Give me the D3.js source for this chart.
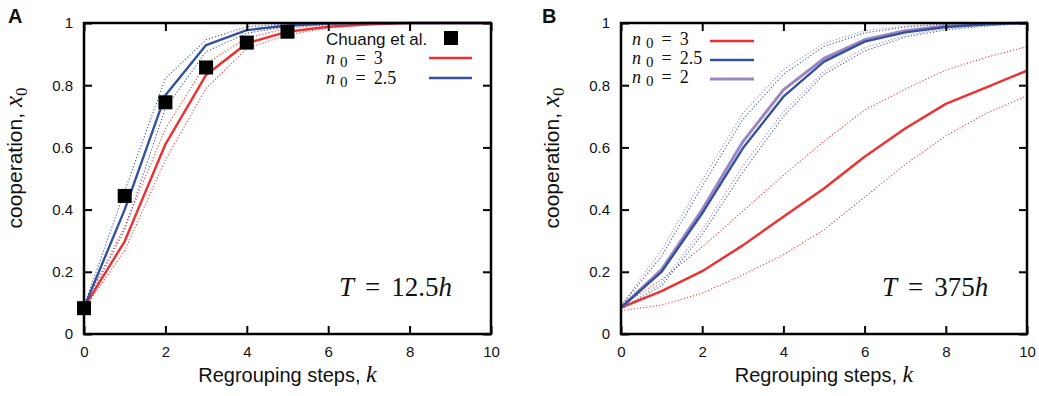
<!DOCTYPE html>
<html><head><meta charset="utf-8">
<script src="https://cdn.jsdelivr.net/npm/d3@7"></script>
<style>body{margin:0;background:#fff}svg{display:block}</style>
</head><body>
<svg id="chart" width="1039" height="396"></svg>
<script>
// ---------- data ----------
const steps = [0,1,2,3,4,5,6,7,8,9,10];
const yTicks = [0,0.2,0.4,0.6,0.8,1];
const xTicks = [0,2,4,6,8,10];
const yTickLabels = ["0","0.2","0.4","0.6","0.8","1"];
const xTickLabels = ["0","2","4","6","8","10"];

// Panel A (T = 12.5h)
const chuangK = [0,1,2,3,4,5];
const chuangX = [0.083,0.444,0.745,0.857,0.937,0.972];
const aRed      = [0.085,0.298,0.610,0.833,0.935,0.972,0.988,0.996,1,1,1];
const aRedHi    = [0.090,0.345,0.660,0.870,0.952,0.984,0.994,0.999,1,1,1];
const aRedLo    = [0.080,0.268,0.560,0.790,0.918,0.962,0.984,0.994,0.999,1,1];
const aBlue     = [0.085,0.400,0.768,0.929,0.977,0.992,0.998,1,1,1,1];
const aBlueHi   = [0.090,0.460,0.822,0.946,0.988,0.997,1,1,1,1,1];
const aBlueLo   = [0.080,0.335,0.726,0.908,0.967,0.988,0.996,1,1,1,1];

// Panel B (T = 375h)
const bRed      = [0.085,0.138,0.202,0.285,0.377,0.468,0.570,0.661,0.740,0.793,0.847];
const bRedHi    = [0.090,0.175,0.280,0.395,0.510,0.620,0.720,0.787,0.849,0.890,0.924];
const bRedLo    = [0.075,0.093,0.131,0.190,0.255,0.335,0.440,0.545,0.637,0.710,0.766];
const bBlue     = [0.085,0.200,0.388,0.597,0.763,0.876,0.940,0.970,0.987,0.996,1];
const bBlueHi   = [0.090,0.250,0.475,0.690,0.835,0.925,0.968,0.987,0.996,1,1];
const bBlueLo   = [0.080,0.155,0.320,0.520,0.700,0.835,0.910,0.955,0.978,0.990,1];
const bPurple   = [0.085,0.207,0.400,0.618,0.785,0.886,0.946,0.975,0.990,0.997,1];
const bPurpleHi = [0.090,0.270,0.495,0.710,0.850,0.935,0.975,0.990,0.998,1,1];
const bPurpleLo = [0.080,0.165,0.335,0.540,0.715,0.845,0.920,0.960,0.982,0.993,1];

// ---------- styles ----------
const RED = "#ee3030", BLUE = "#3450a0", PURPLE = "#9a86c4";
const svg = d3.select("#chart");
const sans = "'Liberation Sans', Arial, Helvetica, sans-serif";
const serif = "'Liberation Serif','Times New Roman',serif";

function panel(opt){
  const x = d3.scaleLinear().domain([0,10]).range([opt.left, opt.right]);
  const y = d3.scaleLinear().domain([0,1]).range([334, 23]);
  const g = svg.append("g");
  const clipId = "clip" + opt.name;
  svg.append("clipPath").attr("id", clipId).append("rect")
    .attr("x", opt.left).attr("y", 21).attr("width", opt.right-opt.left).attr("height", 315);
  const plot = g.append("g").attr("clip-path", `url(#${clipId})`);
  const line = d3.line().x((d,i)=>x(steps[i])).y(d=>y(d));

  opt.dotted.forEach(s=>{
    plot.append("path").attr("d", line(s.data)).attr("fill","none")
      .attr("stroke", s.color).attr("stroke-width",1.1).attr("stroke-dasharray","1.2,2")
      .attr("opacity",0.9);
  });
  opt.solid.forEach(s=>{
    plot.append("path").attr("d", line(s.data)).attr("fill","none")
      .attr("stroke", s.color).attr("stroke-width", s.w||2.4).attr("stroke-linejoin","round");
  });
  if(opt.squares){
    g.selectAll("rect.sq").data(opt.squares.k).enter().append("rect")
      .attr("x",(d)=>x(d)-7).attr("y",(d,i)=>y(opt.squares.v[i])-7)
      .attr("width",14).attr("height",14).attr("fill","#000");
  }

  // axes: ticks inward, mirrored
  const tl = 8;
  const bottom = g.append("g").attr("transform",`translate(0,${y(0)})`)
    .call(d3.axisBottom(x).tickValues(xTicks).tickSize(-tl).tickPadding(12)
      .tickFormat((d,i)=>xTickLabels[i]));
  const top = g.append("g").attr("transform",`translate(0,${y(1)})`)
    .call(d3.axisTop(x).tickValues(xTicks).tickSize(-tl).tickFormat(""));
  const left = g.append("g").attr("transform",`translate(${opt.left},0)`)
    .call(d3.axisLeft(y).tickValues(yTicks).tickSize(-tl).tickPadding(11)
      .tickFormat((d,i)=>yTickLabels[i]));
  const right = g.append("g").attr("transform",`translate(${opt.right},0)`)
    .call(d3.axisRight(y).tickValues(yTicks).tickSize(-tl).tickFormat(""));
  [bottom,top,left,right].forEach(a=>{
    a.select(".domain").remove();
    a.selectAll(".tick line").attr("stroke","#000").attr("stroke-width",2);
    a.selectAll(".tick text").attr("font-family",sans).attr("font-size",15).attr("fill","#111");
  });
  g.append("rect").attr("x",opt.left).attr("y",y(1)).attr("width",opt.right-opt.left)
    .attr("height",y(0)-y(1)).attr("fill","none").attr("stroke","#000").attr("stroke-width",2.5);

  // axis titles
  const xl = g.append("text").attr("x",(opt.left+opt.right)/2).attr("y",382)
    .attr("text-anchor","middle").attr("font-family",sans).attr("font-size",20).attr("fill","#111");
  xl.append("tspan").text("Regrouping steps, ");
  xl.append("tspan").attr("font-family",serif).attr("font-style","italic").attr("font-size",24).text("k");

  const yl = g.append("text").attr("transform",`translate(${opt.left-62},158) rotate(-90)`)
    .attr("text-anchor","middle").attr("font-family",sans).attr("font-size",21).attr("fill","#111");
  yl.append("tspan").text("cooperation, ");
  yl.append("tspan").attr("font-family",serif).attr("font-style","italic").attr("font-size",25).text("x");
  yl.append("tspan").attr("font-family",serif).attr("font-size",17).attr("dy",5).text("0");

  // panel letter
  g.append("text").attr("x",opt.letterX).attr("y",23).attr("font-family",sans)
    .attr("font-weight","bold").attr("font-size",20).attr("fill","#111").text(opt.name);

  // T annotation
  const t = g.append("text").attr("x",opt.tx).attr("y",296).attr("font-family",serif)
    .attr("font-size",27).attr("fill","#111");
  t.append("tspan").attr("font-style","italic").text("T");
  t.append("tspan").attr("dx",11).text("=");
  t.append("tspan").attr("dx",11).text(opt.tVal);
  t.append("tspan").attr("font-style","italic").text("h");

  return {x,y,g};
}

function nLabel(g, xPos, yPos, val){
  const t = g.append("text").attr("x",xPos).attr("y",yPos).attr("font-family",serif)
    .attr("font-size",18).attr("fill","#111");
  t.append("tspan").attr("font-style","italic").text("n");
  t.append("tspan").attr("dy",3).attr("dx",5).attr("font-size",15).text("0");
  t.append("tspan").attr("dy",-3).attr("dx",8).text("=");
  t.append("tspan").attr("dx",8).text(val);
}

// Panel A
const A = panel({name:"A", left:84, right:491, letterX:8, tx:339, tVal:"12.5",
  dotted:[{data:aRedHi,color:RED},{data:aRedLo,color:RED},{data:aBlueHi,color:BLUE},{data:aBlueLo,color:BLUE}],
  solid:[{data:aRed,color:RED},{data:aBlue,color:BLUE}],
  squares:{k:chuangK, v:chuangX}});
// legend A
A.g.append("text").attr("x",326).attr("y",45).attr("font-family",sans).attr("font-size",17)
  .attr("fill","#111").text("Chuang et al.");
A.g.append("rect").attr("x",444).attr("y",31).attr("width",14).attr("height",14).attr("fill","#000");
nLabel(A.g, 326, 64, "3");
A.g.append("line").attr("x1",429).attr("x2",472).attr("y1",58).attr("y2",58).attr("stroke",RED).attr("stroke-width",2.4);
nLabel(A.g, 326, 84, "2.5");
A.g.append("line").attr("x1",429).attr("x2",472).attr("y1",78).attr("y2",78).attr("stroke",BLUE).attr("stroke-width",2.4);

// Panel B
const B = panel({name:"B", left:621, right:1027, letterX:542, tx:882, tVal:"375",
  dotted:[{data:bRedHi,color:RED},{data:bRedLo,color:RED},{data:bPurpleHi,color:PURPLE},{data:bPurpleLo,color:PURPLE},{data:bBlueHi,color:BLUE},{data:bBlueLo,color:BLUE}],
  solid:[{data:bRed,color:RED},{data:bPurple,color:PURPLE,w:3},{data:bBlue,color:BLUE}]});
nLabel(B.g, 632, 45, "3");
B.g.append("line").attr("x1",710).attr("x2",754).attr("y1",41).attr("y2",41).attr("stroke",RED).attr("stroke-width",2.4);
nLabel(B.g, 632, 64, "2.5");
B.g.append("line").attr("x1",710).attr("x2",754).attr("y1",60).attr("y2",60).attr("stroke",BLUE).attr("stroke-width",2.4);
nLabel(B.g, 632, 83, "2");
B.g.append("line").attr("x1",710).attr("x2",754).attr("y1",79).attr("y2",79).attr("stroke",PURPLE).attr("stroke-width",3);
</script>
</body></html>
